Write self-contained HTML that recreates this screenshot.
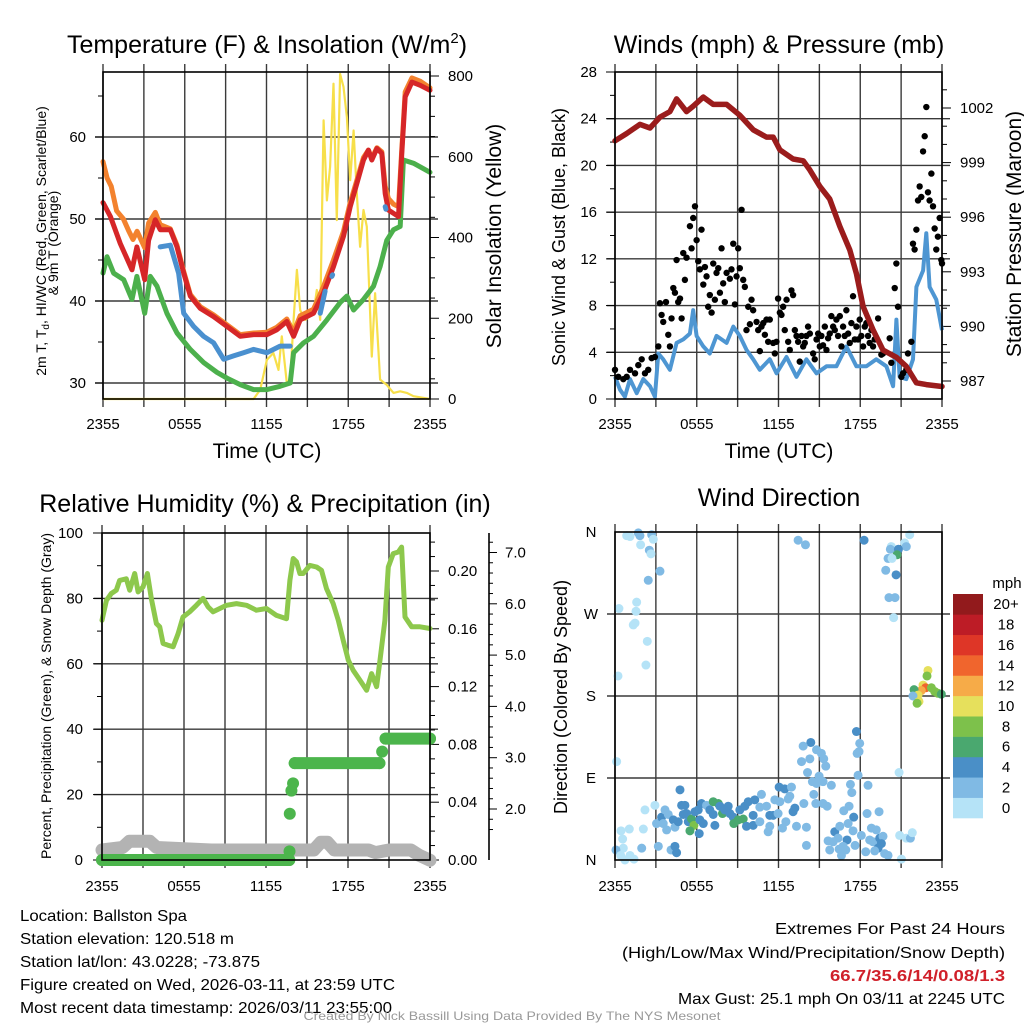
<!DOCTYPE html>
<html><head><meta charset="utf-8"><style>
html,body{margin:0;padding:0;background:#fff;}
svg{display:block;font-family:"Liberation Sans",sans-serif;}
</style></head><body>
<svg id="fig" width="1024" height="1024" viewBox="0 0 1024 1024" xmlns="http://www.w3.org/2000/svg"></svg>
<script>
// ---------- Panel 1: temperature & insolation ----------
const redT=[0,0.54,1.27,2.13,2.49,3.06,3.35,3.84,4.2,4.94,5.43,5.92,6.41,7.14,8.12,9.09,10.07,11.05,12.03,12.76,13.49,13.99,14.47,15.45,16.19,16.92,17.65,18.14,18.63,19.12,19.48,19.73,20.1,20.46,20.71,20.95,21.32,21.69,21.93,22.18,22.67,23.28,24];
const redV=[52,50.3,47,43.8,46.6,42.6,47.4,49.9,48.7,48.7,46.6,43.4,40.6,39.1,38.1,36.9,35.7,35.9,35.9,36.5,37.5,35.7,37.7,38.5,41,44.2,47.9,51.5,54.3,57.2,58.4,57.2,58.6,58,53.1,51.1,50.7,50.3,58,64.9,66.7,66.3,65.7];
const orT=[0,0.3,0.6,1.0,1.5,1.9,2.2,2.5,3.06,3.35,3.84,4.2,4.94,5.43,5.92,6.41,7.14,8.12,9.09,10.07,11.05,12.03,12.76,13.49,13.99,14.47,15.45,16.19,16.92,17.65,18.14,18.63,19.12,19.48,19.73,20.1,20.46,20.71,20.95,21.32,21.69,21.93,22.18,22.67,23.28,24];
const orV=[57,55,54,51,50,48.5,47.5,48.5,46.5,49.5,50.8,49.3,48.8,46.8,43.6,40.8,39.3,38.3,37.1,35.9,36.1,36.2,36.8,37.8,36.2,38.2,39,41.8,45,48.5,52,54.7,57.5,58.4,57.4,58.7,58.2,54,52.5,51.8,51.5,58.5,65.5,67.2,66.8,66];
const blueT=[4.2,4.94,5.55,5.92,6.65,7.38,8.12,8.85,9.58,10.31,11.05,12.03,13,13.74,null,15.94,16.3,null,16.8,16.85,null,20.71,20.76];
const blueV=[46.6,46.8,43.4,38.5,36.9,35.7,34.9,32.9,33.3,33.7,34.1,33.7,34.5,34.5,null,38.5,41.2,null,43,43.2,null,51.5,51.2];
const dewT=[0,0.29,0.78,1.52,2.13,2.49,3.06,3.47,3.96,4.69,5.43,6.41,7.38,8.36,9.09,10.07,11.05,12.03,13,13.74,13.99,14.72,15.45,16.43,17.4,17.9,18.39,19.12,19.85,20.34,20.83,21.32,21.81,22.05,22.79,24];
const dewV=[43.4,45.4,43.4,42.6,40.2,43,38.5,43,41.8,38.5,36.1,34.1,32.5,31.3,30.6,29.8,29.2,29.2,29.6,30,33.7,34.9,35.7,37.7,39.8,40.6,38.9,40.2,41.8,44.2,47.4,48.7,49.1,57.2,56.8,55.7];
const solT=[0,11.05,11.54,12.03,12.51,12.88,13.12,13.49,13.74,13.99,14.23,14.47,14.84,15.45,15.69,15.94,16.19,16.43,16.67,16.92,17.16,17.4,17.65,17.9,18.14,18.39,18.63,18.87,19.12,19.36,19.73,19.97,20.34,20.83,21.32,21.81,22.3,22.79,24];
const solV=[0,0,23,97,114,72,155,40,48,196,320,220,196,212,270,196,690,492,575,781,443,805,773,698,542,665,509,377,468,427,105,262,48,35,15,19,15,7,0];
const tempTicks=[30,40,50,60];
const solTicks=[0,200,400,600,800];
const timeLabels=["2355","0555","1155","1755","2355"];
// ---------- Panel 2: wind & pressure ----------
const presT=[0,0.86,1.83,2.57,3.3,4.03,4.52,5.25,5.74,6.48,7.21,8.19,9.16,10.14,11.12,11.61,12.1,13.07,13.81,14.3,15.03,15.76,16.5,17.23,17.72,18.21,18.94,19.67,20.65,21.38,22.12,22.85,24];
const presV=[1000.2,1000.6,1001.1,1000.9,1001.5,1001.8,1002.5,1001.8,1002.1,1002.6,1002.2,1002.2,1001.6,1000.8,1000.4,1000.4,999.7,999.2,999.1,998.6,997.7,997,995.5,994.2,992.9,991.1,989.8,988.7,988.3,987.8,986.9,986.8,986.7];
const windT=[0,0.37,0.73,1.1,1.59,2.08,2.57,2.93,3.18,3.54,4.03,4.52,5.01,5.5,5.74,5.99,6.48,6.96,7.45,8.19,8.68,9.16,9.65,10.14,10.63,11.36,11.85,12.59,13.32,14.05,14.79,15.52,16.25,16.98,17.72,18.45,19.18,19.92,20.41,20.65,20.89,21.38,21.87,22.12,22.61,22.85,23.09,23.58,24];
const windV=[1.9,0.8,0.2,1.7,0.5,1.7,1.1,0.2,3.9,3.4,2.5,4.8,5.1,5.6,7.6,5.4,4.5,3.9,5.4,4.8,6.2,5.4,4.2,3.4,2.5,3.4,2.2,3.6,1.9,3.4,2.2,2.8,2.8,4.5,2.8,2.8,3.4,2.8,1.1,6.8,1.9,1.7,3.4,9.6,11,14.2,9.6,8.5,5.9];
const gustT=[0,.24,.61,.86,1.1,1.47,1.71,1.96,2.2,2.44,2.69,2.93,3.18,3.3,3.42,3.54,3.74,3.91,4.03,4.15,4.28,4.4,4.52,4.64,4.77,4.89,5.01,5.13,5.25,5.5,5.62,5.74,5.87,5.99,6.11,6.23,6.35,6.48,6.6,6.72,6.84,6.96,7.09,7.21,7.33,7.45,7.58,7.7,7.82,7.94,8.06,8.19,8.43,8.55,8.68,8.8,8.92,9.04,9.16,9.29,9.41,9.53,9.65,9.78,9.9,10.02,10.14,10.39,10.51,10.63,10.75,10.88,11,11.12,11.24,11.36,11.61,11.73,11.85,11.97,12.1,12.22,12.34,12.46,12.59,12.71,12.83,12.95,13.07,13.2,13.32,13.44,13.56,13.69,13.81,13.93,14.05,14.17,14.3,14.54,14.66,14.79,14.91,15.03,15.15,15.27,15.4,15.52,15.64,15.76,15.88,16.01,16.13,16.25,16.37,16.5,16.62,16.74,16.86,16.98,17.11,17.23,17.35,17.47,17.6,17.72,17.84,17.96,18.08,18.21,18.33,18.45,18.57,18.69,18.82,18.94,19.06,19.31,19.55,19.67,20.16,20.28,20.53,20.65,20.77,21.02,21.14,21.38,21.5,21.75,21.87,21.99,22.12,22.24,22.36,22.48,22.61,22.73,22.85,22.97,23.09,23.22,23.34,23.46,23.58,23.7,23.83,23.95,24];
const gustV=[2.5,1.9,1.7,1.9,2.5,2.2,2.9,3.4,2.2,2.5,3.5,3.6,4.5,8.2,7.2,6.6,8.3,5.5,4.5,6.9,9.5,9.1,11.9,8.3,8.6,6.9,12.5,10.2,12.1,14.8,12.9,15.5,16.5,13.6,11.8,11.1,14.5,9.8,11.3,10.5,7.9,8.9,7.4,11.6,8.5,10.8,11.2,9.1,12.9,9.9,8.3,10.8,10.3,11.1,13.3,8.1,10.5,12.9,11.2,16.2,10.2,9.6,5.9,7.9,6.4,8.5,7.6,6.6,5.9,4.1,6.2,6.5,5.5,6.8,4.9,6.8,4.8,3.9,4.9,8.6,7.4,7.2,7.9,5.9,8.5,4.9,4.2,9.3,8.9,5.9,5.4,4.9,3.2,5.4,4.5,4.8,5.4,6.2,5.6,3.9,3.4,5.1,5.6,4.5,5.4,4.6,6.2,4.2,5.2,5.6,7.1,6.2,5.9,6.8,5.4,7.1,4.5,6.2,5.4,7.6,5.6,4.8,6.5,8.8,5.1,6.2,5.1,6.8,5.4,4.5,6.2,6.5,5.4,4.8,5.9,4.5,5.1,6.9,3.8,3.9,5.2,3.1,9.5,11.6,7.9,1.9,2.2,2.5,3.9,4.9,13.3,12.8,14.5,17,18.2,17.3,21.2,22.5,25.0,17.7,17,19.3,16.5,14.6,12.8,13.9,15.5,11.9,11.6];
const windTicks=[0,4,8,12,16,20,24,28];
const presTicks=[987,990,993,996,999,1002];
// ---------- Panel 3: RH, precip, snow ----------
const rhT=[0,.32,.68,1.05,1.29,1.78,2.03,2.39,2.64,3.0,3.32,3.61,3.98,4.22,4.47,4.83,5.2,5.57,5.93,6.42,6.91,7.4,7.76,8.13,8.62,9.11,9.84,10.57,11.3,12.04,12.77,13.5,13.75,13.99,14.23,14.48,14.72,15.21,15.7,16.06,16.43,16.92,17.29,17.65,18.02,18.38,18.87,19.36,19.73,20.09,20.34,20.7,20.95,21.31,21.68,21.92,22.17,22.66,23.27,24];
const rhV=[73.3,79.4,81.5,82.5,85.5,86,82.5,87.6,82,83.5,87.6,80,72.3,71.3,66.2,65.7,65.2,69.2,74.3,75.9,77.9,80,77.4,75.9,76.9,77.9,78.4,77.9,76.4,76.9,74.8,73.8,85.5,92.2,91.2,87.6,87.6,90.1,89.6,88.6,83,78.4,73.3,67.2,61.1,58,55,51.9,57,53,61.1,73.3,89.6,93.7,94.2,95.7,74.3,71.3,71.3,70.8];
const precT=[0,13.7,13.72,13.74,13.86,13.98,14.1,20.3,20.5,20.75,24];
const precV=[0,0,0.006,0.032,0.048,0.053,0.067,0.067,0.075,0.084,0.084];
const snowT=[0,1.5,2.0,3.0,3.5,4,8,13.7,15.5,16,16.5,17,19.5,20,21,22,22.6,23.2,24];
const snowV=[1.2,1.25,1.37,1.37,1.37,1.25,1.2,1.2,1.2,1.35,1.35,1.2,1.2,1.15,1.2,1.2,1.2,1.1,1.0];
const rhTicks=[0,20,40,60,80,100];
const precTicks=[0,0.04,0.08,0.12,0.16,0.20];
const snowTicks=[2,3,4,5,6,7];
// ---------- Panel 4: wind direction ----------
const dirT=[0.86,1.1,1.71,1.83,1.88,2.69,2.81,2.52,2.64,3.3,2.44,0.29,1.59,1.54,1.34,1.47,2.37,2.27,0.22,0.12,13.44,13.98,18.28,21.63,21.26,21.38,20.28,20.21,20.8,20.7,20.04,20.33,19.87,20.63,20.11,20.55,20.45,22.97,22.9,22.61,22.8,22.48,21.95,22.24,21.87,23.22,23.46,23.7,23.95,22.31,22.17,17.72,17.96,17.91,17.77,17.84,14.37,13.81,14.79,15.15,15.32,15.47,14.3,13.69,14.13,14.98,14.49,14.79,15.27,15.88,17.28,18.57,20.85,14.59,13.86,14.74,15.27,15.57,17.38,17.18,16.79,17.52,18.5,19.38,16.13,16.5,17.11,17.47,15.64,16.01,16.37,17.03,16.74,15.76,16.45,16.62,16.94,17.62,18.08,18.4,18.82,19.18,18.69,18.94,19.43,19.67,19.55,19.31,19.06,19.79,20.04,20.89,21.38,21.68,21.82,21.02,2.2,2.93,3.05,3.42,3.67,3.91,3.54,3.79,4.28,4.4,4.77,4.89,5.13,5.25,5.01,5.38,4.64,5.62,5.79,5.5,5.87,6.11,6.35,6.23,6.48,6.18,6.72,6.96,7.21,7.58,7.89,7.21,7.33,7.7,8.06,8.31,8.43,8.68,8.72,9.04,9.41,9.16,9.53,9.78,10.26,10.75,10.63,11.12,11.36,11.61,10.14,9.65,10.14,10.63,11.36,11.24,11.97,12.1,12.05,12.46,12.83,12.95,13.07,13.2,12.54,12.29,13.32,14.05,14.05,12.71,11.73,0.44,1.05,2.08,0.56,0.61,0.07,0.42,0.73,1.1,1.39,1.96,3.18,4.11,4.4,4.52];
const dirV=[356,355,359,356,346,357,352,340,336,317,307,276,283,273,258,260,240,214,202,108,351,346,351,357,348,344,344,341,341,335,331,331,318,313,288,288,266,208,202,192,189,186,187,181,180,189,185,183,182,174,172,141,128,119,117,93,129,125,121,117,111,103,111,108,96,92,86,84,86,82,83,82,96,72,62,62,62,59,74,59,54,47,51,53,31,37,40,32,21,20,24,22,15,11,12,5,11,16,27,9,35,33,22,20,24,26,18,13,10,7,5,27,24,24,30,1,55,60,40,47,55,50,40,33,44,36,77,60,60,51,50,42,42,45,38,32,53,55,62,44,40,29,60,55,64,62,51,50,38,59,55,59,51,47,40,44,45,55,59,64,66,72,58,59,49,49,49,37,38,42,37,31,51,64,80,78,70,80,53,57,42,35,37,36,16,67,66,32,34,34,23,13,11,5,0,5,1,13,15,11,15,8];
const dirS=[1,1,2,3,1,3,1,3,1,3,3,1,1,1,1,1,1,1,1,1,3,3,4,1,1,2,1,2,4,6,2,1,3,4,3,3,1,10,8,10,14,12,6,10,3,8,8,8,6,10,8,4,3,3,3,3,4,3,3,3,3,3,3,3,3,3,3,3,3,3,3,3,1,3,3,3,3,3,3,3,3,4,3,3,4,3,3,3,3,3,3,4,3,3,3,3,3,3,3,3,3,3,3,3,4,3,4,4,3,3,3,1,1,3,1,1,1,1,3,4,3,3,3,3,4,3,4,4,4,4,4,4,4,6,8,6,4,4,4,4,4,4,3,4,6,6,6,4,4,4,4,4,4,4,6,6,6,4,4,4,4,3,3,3,4,4,4,4,4,3,3,3,3,3,4,4,3,3,4,4,3,3,3,3,3,3,3,1,1,1,1,1,3,1,1,1,1,3,3,3,4,4];
const dirLabels=["N","E","S","W","N"];
const spdLabels=["0","2","4","6","8","10","12","14","16","18","20+"];
const spdColors=["#b5e3f7","#80bae4","#4a8fc7","#4aa86f","#7dc14b","#e6e05c","#f6ab48","#f0652d","#de3627","#bd1c26","#921a1c"];

const NS="http://www.w3.org/2000/svg";
const svg=document.getElementById('fig');
function mk(tag,attrs,parent){const e=document.createElementNS(NS,tag);for(const k in attrs)e.setAttribute(k,attrs[k]);(parent||svg).appendChild(e);return e;}
function txt(s,x,y,size,anchor,parent,extra){const e=mk('text',Object.assign({x:x,y:y,'font-size':size,'text-anchor':anchor||'middle',fill:'#000'},extra||{}),parent);e.textContent=s;return e;}
function pathFrom(T,V,fx,fy){let d='',pen=false;for(let i=0;i<T.length;i++){if(T[i]===null||V[i]===null){pen=false;continue;}d+=(pen?'L':'M')+fx(T[i]).toFixed(1)+' '+fy(V[i]).toFixed(1);pen=true;}return d;}

function frame(g,L,R,T,B,hGrid){
  for(let i=0;i<=8;i++){const x=L+i*(R-L)/8;
    const l=mk('line',{x1:x,x2:x,y1:T-8,y2:B+8,stroke:'#3a3a3a','stroke-width':1.4},g);
    
    }
  hGrid.forEach(y=>{const l=mk('line',{x1:L-8,x2:R+8,y1:y,y2:y,stroke:'#3a3a3a','stroke-width':1.4},g);
    
    });
}
function border(g,L,R,T,B){const r=mk('rect',{x:L,y:T,width:R-L,height:B-T,fill:'none',stroke:'#000','stroke-width':1.6},g);
  
  }
function xLabels(g,L,R,y){timeLabels.forEach((s,i)=>{const t=txt(s,L+i*(R-L)/4,y,15,'middle',g);
  
  });}

// ===== Panel 1 =====
{
const g=mk('g',{});  
const L=103,R=430,T=72,B=399;
const x=h=>L+h*(R-L)/24, y=v=>137+(60-v)*8.2, yr=w=>399-w*323/800;
frame(g,L,R,T,B,tempTicks.map(y));
for(let v=30;v<=65;v+=5){mk('line',{x1:L-(v%10?5:8),x2:L,y1:y(v),y2:y(v),stroke:'#000'},g);}
for(let w=0;w<=800;w+=50){mk('line',{x1:R,x2:R+(w%200?5:9),y1:yr(w),y2:yr(w),stroke:'#000'},g);}
const sol=mk('path',{d:pathFrom(solT,solV,x,yr),fill:'none',stroke:'#f7df4a','stroke-width':2.2,'stroke-linejoin':'round'},g);
 
const dw=mk('path',{d:pathFrom(dewT,dewV,x,y),fill:'none',stroke:'#4cb04c','stroke-width':5,'stroke-linejoin':'round','stroke-linecap':'round'},g);
 
const o=mk('path',{d:pathFrom(orT,orV,x,y),fill:'none',stroke:'#f3822e','stroke-width':5,'stroke-linejoin':'round','stroke-linecap':'round'},g);
 
const r=mk('path',{d:pathFrom(redT,redV,x,y),fill:'none',stroke:'#d62628','stroke-width':5,'stroke-linejoin':'round','stroke-linecap':'round'},g);
 
const b=mk('path',{d:pathFrom(blueT,blueV,x,y),fill:'none',stroke:'#4a90cf','stroke-width':5,'stroke-linejoin':'round','stroke-linecap':'round'},g);
 
border(g,L,R,T,B);
tempTicks.forEach(v=>{const t=txt(String(v),86,y(v)+5,15,'end',g);  });
solTicks.forEach(w=>{const t=txt(String(w),448,yr(w)+5,15,'start',g);  });
xLabels(g,L,R,429);
const xt=txt('Time (UTC)',267,458,21,'middle',g);  
const ti=mk('text',{x:267,y:53,'font-size':25,'text-anchor':'middle'},g);
ti.innerHTML='Temperature (F) &amp; Insolation (W/m<tspan font-size="15" dy="-10">2</tspan><tspan dy="10">)</tspan>';
 
const yl=mk('text',{x:0,y:0,'font-size':14,'text-anchor':'middle',transform:'translate(46,241) rotate(-90)'},g);
yl.innerHTML='2m T, T<tspan font-size="10" dy="3">d</tspan><tspan dy="-3">, HI/WC (Red, Green, Scarlet/Blue)</tspan>';
 
const yl2=txt('& 9m T (Orange)',0,0,14,'middle',g,{transform:'translate(58,243) rotate(-90)'});
 
const yr2=txt('Solar Insolation (Yellow)',0,0,21,'middle',g,{transform:'translate(501,236) rotate(-90)'});
 
}
// ===== Panel 2 =====
{
const g=mk('g',{});  
const L=615,R=942,T=72,B=399;
const x=h=>L+h*(R-L)/24, y=v=>B-v*(B-T)/28, yp=p=>381-(p-987)*18.2;
frame(g,L,R,T,B,windTicks.slice(1,7).map(y));
for(let v=0;v<=28;v+=2){mk('line',{x1:L-(v%4?5:9),x2:L,y1:y(v),y2:y(v),stroke:'#000'},g);}
for(let p=986;p<=1004;p+=1){const yy=yp(p);if(yy<T||yy>B)continue;mk('line',{x1:R,x2:R+(p%3?5:9),y1:yy,y2:yy,stroke:'#000'},g);}
const w=mk('path',{d:pathFrom(windT,windV,x,y),fill:'none',stroke:'#4e96d2','stroke-width':4,'stroke-linejoin':'round'},g);
 
for(let i=0;i<Math.min(gustT.length,gustV.length);i++){
  const c=mk('circle',{cx:x(gustT[i]),cy:y(gustV[i]),r:3.2,fill:'#000'},g);
  
  
}
const p=mk('path',{d:pathFrom(presT,presV,x,yp),fill:'none',stroke:'#9b1c1c','stroke-width':5.5,'stroke-linejoin':'round','stroke-linecap':'round'},g);
 
border(g,L,R,T,B);
windTicks.forEach(v=>{const t=txt(String(v),597,y(v)+5,15,'end',g);  });
presTicks.forEach(v=>{const t=txt(String(v),960,yp(v)+5,15,'start',g);  });
xLabels(g,L,R,429);
const xt=txt('Time (UTC)',779,458,21,'middle',g);  
const ti=txt('Winds (mph) & Pressure (mb)',779,53,25,'middle',g);  
const yl=txt('Sonic Wind & Gust (Blue, Black)',0,0,18,'middle',g,{transform:'translate(565,237) rotate(-90)'});  
const yr=txt('Station Pressure (Maroon)',0,0,21,'middle',g,{transform:'translate(1021,234) rotate(-90)'});  
}
// ===== Panel 3 =====
{
const g=mk('g',{});  
const L=102,R=430,T=533,B=860;
const x=h=>L+h*(R-L)/24, y=v=>B-v*3.27, ypr=v=>B-v*1445, ys=s=>809-(s-2)*51.3;
frame(g,L,R,T,B,[20,40,60,80].map(y));
for(let v=0;v<=100;v+=10){mk('line',{x1:L-(v%20?5:9),x2:L,y1:y(v),y2:y(v),stroke:'#000'},g);}
for(let v=0;v<=0.225;v+=0.01){const k=Math.round(v*100);mk('line',{x1:R,x2:R+(k%4?5:9),y1:ypr(v),y2:ypr(v),stroke:'#000'},g);}
mk('line',{x1:489,x2:489,y1:T,y2:B,stroke:'#000','stroke-width':1.6},g);
for(let k=0;k<=36;k++){const s=1.6+k*0.2;const yy=ys(s);if(yy<T||yy>B)continue;mk('line',{x1:489,x2:489+(Math.abs(s-Math.round(s))<0.01?8:4),y1:yy,y2:yy,stroke:'#000'},g);}
const sn=mk('path',{d:pathFrom(snowT,snowV,x,ys),fill:'none',stroke:'#b3b3b3','stroke-width':13,'stroke-linecap':'round','stroke-linejoin':'round'},g);
 
for(let i=0;i<precT.length;i++){
  if(i<precT.length-1&&precV[i]===precV[i+1]){
    const s=mk('line',{x1:x(precT[i]),x2:x(precT[i+1]),y1:ypr(precV[i]),y2:ypr(precV[i]),stroke:'#4cb54c','stroke-width':12,'stroke-linecap':'round'},g);
    
    
  }
  const c=mk('circle',{cx:x(precT[i]),cy:ypr(precV[i]),r:6,fill:'#4cb54c'},g);
  
  
}
const rh=mk('path',{d:pathFrom(rhT,rhV,x,y),fill:'none',stroke:'#8dc84c','stroke-width':5,'stroke-linejoin':'round','stroke-linecap':'round'},g);
 
border(g,L,R,T,B);
rhTicks.forEach(v=>{const t=txt(String(v),83,y(v)+5,15,'end',g);  });
precTicks.forEach(v=>{const t=txt(v.toFixed(2),448,ypr(v)+5,15,'start',g);  });
snowTicks.forEach(v=>{const t=txt(v.toFixed(1),505,ys(v)+5,15,'start',g);  });
xLabels(g,L,R,891);
const ti=txt('Relative Humidity (%) & Precipitation (in)',265,512,25,'middle',g);  
const yl=txt('Percent, Precipitation (Green), & Snow Depth (Gray)',0,0,14,'middle',g,{transform:'translate(51,696) rotate(-90)'});  
}
// ===== Panel 4 =====
{
const g=mk('g',{});  
const L=615,R=942,T=532,B=860;
const x=h=>L+h*(R-L)/24, y=d=>B-d*(B-T)/360;
frame(g,L,R,T,B,[90,180,270].map(y));
for(let i=0;i<Math.min(dirT.length,dirV.length,dirS.length);i++){
  const c=mk('circle',{cx:x(dirT[i]),cy:y(dirV[i]),r:4.5,fill:spdColors[Math.min(10,Math.floor(dirS[i]/2))]},g);
  
  
}
border(g,L,R,T,B);
dirLabels.forEach((s,i)=>{const t=txt(s,591,y(i*90)+5,15,'middle',g);  });
xLabels(g,L,R,891);
const ti=txt('Wind Direction',779,506,25,'middle',g);  
const yl=txt('Direction (Colored By Speed)',0,0,18,'middle',g,{transform:'translate(567,697) rotate(-90)'});  
const lg=mk('g',{},g);  
const cbT=594,cbB=818,h=(cbB-cbT)/11;
spdColors.forEach((c,i)=>{const r=mk('rect',{x:953,y:cbB-(i+1)*h,width:30,height:h+0.3,fill:c},lg);
  
  
  const t=txt(spdLabels[i],1006,cbB-(i+0.5)*h+5,15,'middle',lg);
  
  });
const mph=txt('mph',1007,588,15,'middle',lg);  
}
// ===== Footer text =====
{
const g=mk('g',{});  
const left=["Location: Ballston Spa","Station elevation: 120.518 m","Station lat/lon: 43.0228; -73.875","Figure created on Wed, 2026-03-11, at 23:59 UTC","Most recent data timestamp: 2026/03/11 23:55:00"];
const leftW=[167,214,240,375,372];
left.forEach((s,i)=>{const t=txt(s,20,921+i*23,16,'start',g,{textLength:leftW[i],lengthAdjust:'spacingAndGlyphs'});  });
const a=txt('Extremes For Past 24 Hours',1005,934,16,'end',g,{textLength:230,lengthAdjust:'spacingAndGlyphs'});  
const b=txt('(High/Low/Max Wind/Precipitation/Snow Depth)',1005,958,16,'end',g,{textLength:383,lengthAdjust:'spacingAndGlyphs'});  
const c=txt('66.7/35.6/14/0.08/1.3',1005,981,16,'end',g,{fill:'#d0202a','font-weight':'bold',textLength:175,lengthAdjust:'spacingAndGlyphs'});  
const d=txt('Max Gust: 25.1 mph On 03/11 at 2245 UTC',1005,1004,16,'end',g,{textLength:327,lengthAdjust:'spacingAndGlyphs'});  
const e=txt('Created By Nick Bassill Using Data Provided By The NYS Mesonet',512,1020,12,'middle',g,{fill:'#999',textLength:417,lengthAdjust:'spacingAndGlyphs'});  
}
</script>
</body></html>
